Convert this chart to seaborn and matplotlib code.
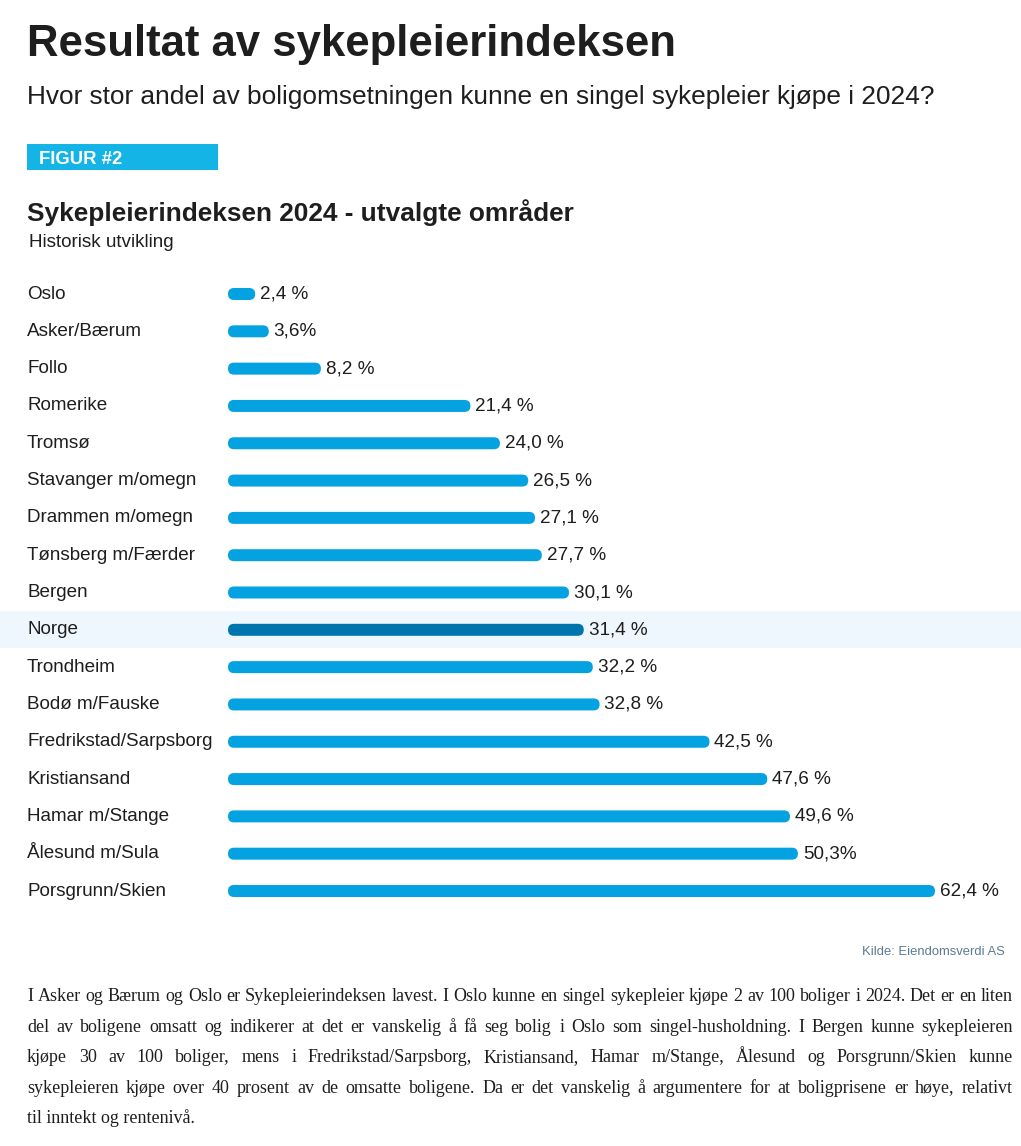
import matplotlib
matplotlib.use("Agg")
import matplotlib.pyplot as plt
import seaborn as sns
import pandas as pd
from matplotlib.patches import FancyBboxPatch, Rectangle
from matplotlib.transforms import blended_transform_factory

# ---------------- data ----------------
categories = ["Oslo", "Asker/Bærum", "Follo", "Romerike", "Tromsø",
              "Stavanger m/omegn", "Drammen m/omegn", "Tønsberg m/Færder",
              "Bergen", "Norge", "Trondheim", "Bodø m/Fauske",
              "Fredrikstad/Sarpsborg", "Kristiansand", "Hamar m/Stange",
              "Ålesund m/Sula", "Porsgrunn/Skien"]
values = [2.4, 3.6, 8.2, 21.4, 24.0, 26.5, 27.1, 27.7, 30.1, 31.4,
          32.2, 32.8, 42.5, 47.6, 49.6, 50.3, 62.4]
value_labels = ["2,4 %", "3,6%", "8,2 %", "21,4 %", "24,0 %", "26,5 %",
                "27,1 %", "27,7 %", "30,1 %", "31,4 %", "32,2 %", "32,8 %",
                "42,5 %", "47,6 %", "49,6 %", "50,3%", "62,4 %"]
highlight = "Norge"

title = "Resultat av sykepleierindeksen"
subtitle = "Hvor stor andel av boligomsetningen kunne en singel sykepleier kjøpe i 2024?"
fig_tag = "FIGUR #2"
chart_title = "Sykepleierindeksen 2024 - utvalgte områder"
chart_sub = "Historisk utvikling"
source = "Kilde: Eiendomsverdi AS"
paragraph = [
    "I Asker og Bærum og Oslo er Sykepleierindeksen lavest. I Oslo kunne en singel sykepleier kjøpe 2 av 100 boliger i 2024. Det er en liten",
    "del av boligene omsatt og indikerer at det er vanskelig å få seg bolig i Oslo som singel-husholdning. I Bergen kunne sykepleieren",
    "kjøpe 30 av 100 boliger, mens i Fredrikstad/Sarpsborg, Kristiansand, Hamar m/Stange, Ålesund og Porsgrunn/Skien kunne",
    "sykepleieren kjøpe over 40 prosent av de omsatte boligene. Da er det vanskelig å argumentere for at boligprisene er høye, relativt",
    "til inntekt og rentenivå.",
]

# ---------------- style ----------------
LIGHT = "#05a2e2"
DARK = "#0074ad"
TAG = "#14b4e6"
BAND = "#eef7fd"
TXT = "#1e1e1e"

W, H = 1021, 1146
sns.set_theme(style="white")
plt.rcParams['font.family'] = ['Liberation Sans', 'DejaVu Sans']

fig = plt.figure(figsize=(W / 100, H / 100), dpi=100)
fig.patch.set_facecolor("white")
renderer = fig.canvas.get_renderer()


def fx(x):
    return x / W


def fy(y):
    return 1 - y / H


def ftext(x, y, s, target_w=None, **kw):
    t = fig.text(fx(x), fy(y), s, transform=fig.transFigure, **kw)
    if target_w is not None:
        bb = t.get_window_extent(renderer)
        t.set_fontsize(t.get_fontsize() * target_w / bb.width)
    return t


# ---------------- header ----------------
ftext(27, 56, title, target_w=650, fontsize=32, fontweight="bold",
      color=TXT, va="baseline", ha="left")
ftext(27, 104, subtitle, target_w=908, fontsize=18, color=TXT,
      va="baseline", ha="left")
fig.patches.append(Rectangle((fx(27), fy(170)), fx(218) - fx(27), (170 - 144) / H,
                             transform=fig.transFigure, facecolor=TAG,
                             edgecolor="none", figure=fig))
ftext(39, 164, fig_tag, target_w=83, fontsize=13, fontweight="bold",
      color="white", va="baseline", ha="left")
ftext(27, 221, chart_title, target_w=547, fontsize=17, fontweight="bold",
      color=TXT, va="baseline", ha="left")
ftext(29, 247, chart_sub, target_w=146, fontsize=12.5, color=TXT,
      va="baseline", ha="left")

# ---------------- bars ----------------
row_px = (891 - 294) / 16
x0_px = 228
px_per_unit = 11.33
bar_px = 12
ax_top = 294 - row_px / 2
ax_bot = 891 + row_px / 2
ax = fig.add_axes([fx(x0_px), fy(ax_bot), 1 - fx(x0_px), (ax_bot - ax_top) / H])
ax.set_facecolor("none")

df = pd.DataFrame({"omrade": categories, "verdi": values})
palette = {c: (DARK if c == highlight else LIGHT) for c in categories}
sns.barplot(data=df, x="verdi", y="omrade", hue="omrade", palette=palette,
            order=categories, hue_order=categories, width=bar_px / row_px,
            saturation=1, legend=False, ax=ax)

n = len(categories)
xmax = (W - x0_px) / px_per_unit
ax.set_xlim(0, xmax)
ax.set_ylim(n - 0.5, -0.5)
ax.axis("off")

x_per_px = xmax / (W - x0_px)
y_per_px = 1 / row_px
for p in list(ax.patches):
    x, y, w, h = p.get_x(), p.get_y(), p.get_width(), p.get_height()
    fc = p.get_facecolor()
    r = (bar_px / 2) * x_per_px
    fb = FancyBboxPatch((x, y), w, h,
                        boxstyle=f"round,pad=0,rounding_size={r}",
                        mutation_aspect=y_per_px / x_per_px,
                        facecolor=fc, edgecolor="none", zorder=3)
    p.remove()
    ax.add_patch(fb)

# highlight band for Norge
hi = categories.index(highlight)
blend = blended_transform_factory(fig.transFigure, ax.transData)
ax.add_patch(Rectangle((0, hi - 0.5), 1, 1, transform=blend, facecolor=BAND,
                       edgecolor="none", zorder=0, clip_on=False))

# value labels & category labels
for i, (v, lbl, cat) in enumerate(zip(values, value_labels, categories)):
    ax.annotate(lbl, (v, i), xytext=(3.5, 0), textcoords="offset points",
                va="center", ha="left", fontsize=13.6, color=TXT, zorder=4)
    ax.text(fx(27), i, cat, transform=blend, va="center", ha="left",
            fontsize=13.6, color=TXT, zorder=4, clip_on=False)

# ---------------- source ----------------
ftext(1005, 955, source, target_w=143, fontsize=10, color="#5b7c94",
      va="baseline", ha="right")

# ---------------- paragraph (justified) ----------------
serif = ["Liberation Serif", "DejaVu Serif"]
probe = ftext(27, 1001, paragraph[0], fontsize=12.5, family=serif,
              va="baseline", ha="left")
size = 12.5 * 986 / probe.get_window_extent(renderer).width
probe.remove()

left, right = 27, 1013
for k, line in enumerate(paragraph):
    ybase = 1001 + k * 30.6
    if k == len(paragraph) - 1:
        ftext(left, ybase, line, fontsize=size, color=TXT, family=serif,
              va="baseline", ha="left")
        continue
    words = line.split(" ")
    objs = [ftext(left, ybase, w_, fontsize=size, color=TXT, family=serif,
                  va="baseline", ha="left") for w_ in words]
    widths = [o.get_window_extent(renderer).width for o in objs]
    gap = (right - left - sum(widths)) / (len(words) - 1)
    xpos = left
    for o, wd in zip(objs, widths):
        o.set_x(fx(xpos))
        xpos += wd + gap

fig.savefig("out.png", dpi=100, facecolor="white")
